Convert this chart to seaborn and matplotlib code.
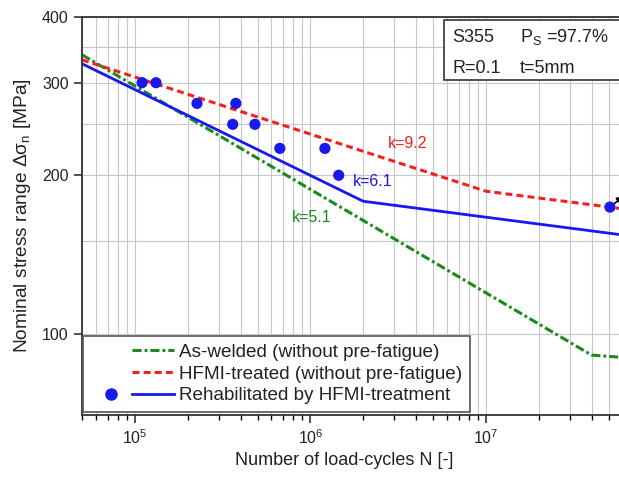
import numpy as np
import matplotlib
matplotlib.use('Agg')
import matplotlib.pyplot as plt
import seaborn as sns
from matplotlib.lines import Line2D
from matplotlib.legend_handler import HandlerTuple
from matplotlib.patches import Rectangle
from matplotlib.ticker import LogLocator, FixedLocator, NullFormatter, FormatStrFormatter

# S-N curves, knee points (N, stress range in MPa)
aw_N = [5e4, 4e7, 6.2e7]
aw_S = [339, 91, 90]
hfmi_N = [5e4, 1e7, 6.2e7]
hfmi_S = [331.6, 186.5, 172.5]
reh_N = [5e4, 2e6, 6.2e7]
reh_S = [326, 178.5, 153.8]

# test results, rehabilitated specimens
test_N = [1.10e5, 1.32e5, 2.26e5, 3.61e5, 3.76e5, 4.83e5, 6.70e5, 1.21e6, 1.45e6, 5.09e7]
test_S = [300, 300, 274, 250, 274, 250, 225, 225, 200, 174]

green = '#1a8a1a'
red = '#f42020'
blue = '#1818f0'

plt.rcParams.update({
    'font.family': ['Liberation Sans', 'DejaVu Sans'],
    'mathtext.fontset': 'custom',
    'mathtext.rm': 'Liberation Sans',
    'mathtext.it': 'Liberation Sans:italic',
    'mathtext.default': 'regular',
    'lines.scale_dashes': False,
})

fig = plt.figure(figsize=(6.19, 4.79), dpi=100)
ax = fig.add_axes([82 / 619, 64 / 479, 543 / 619, 398 / 479])
ax.set_xscale('log')
ax.set_yscale('log')

sns.lineplot(x=aw_N, y=aw_S, ax=ax, color=green, lw=2.2)
ax.lines[-1].set_dashes((6.5, 2.2, 2, 2.2))
sns.lineplot(x=hfmi_N, y=hfmi_S, ax=ax, color=red, lw=2.2)
ax.lines[-1].set_dashes((5, 3))
sns.lineplot(x=reh_N, y=reh_S, ax=ax, color=blue, lw=2)
sns.scatterplot(x=test_N, y=test_S, ax=ax, color=blue, s=65, edgecolor='none', zorder=4)

# run-out arrow on the last specimen
ax.annotate('', xy=(test_N[-1], test_S[-1]), xytext=(10, 8), textcoords='offset points',
            arrowprops=dict(arrowstyle='<|-', color='k', lw=1.2, shrinkA=0, shrinkB=4),
            annotation_clip=False)

ax.set_xlim(5e4, 6.2e7)
ax.set_ylim(70, 400)

ax.xaxis.set_major_locator(LogLocator(base=10))
ax.xaxis.set_minor_locator(LogLocator(base=10, subs=np.arange(2, 10)))
ax.xaxis.set_minor_formatter(NullFormatter())
ax.yaxis.set_major_locator(FixedLocator([100, 200, 300, 400]))
ax.yaxis.set_major_formatter(FormatStrFormatter('%d'))
ax.yaxis.set_minor_locator(FixedLocator([150, 250, 350]))
ax.yaxis.set_minor_formatter(NullFormatter())

ax.grid(which='both', color='#c8c8c8', lw=0.8)
ax.set_axisbelow(True)
ax.tick_params(axis='both', which='major', direction='out', length=6, width=1.1,
               labelsize=11.5, colors='#222222')
ax.tick_params(axis='x', which='minor', direction='out', length=3.5, width=1)
ax.tick_params(axis='y', which='minor', length=0)
for side in ['left', 'bottom', 'top']:
    ax.spines[side].set_color('#333333')
    ax.spines[side].set_linewidth(1.3)
ax.spines['right'].set_visible(False)

ax.set_xlabel('Number of load-cycles N [-]', fontsize=13, color='#222222')
ax.set_ylabel('Nominal stress range Δσ$_\\mathregular{n}$ [MPa]', fontsize=13.8, color='#222222')
ax.xaxis.set_label_coords(0.4825, -0.093)
ax.yaxis.set_label_coords(-0.09, 0.5)

# slope labels
ax.text(2.765e6, 229.7, 'k=9.2', color=red, fontsize=11.5, va='center')
ax.text(1.746e6, 194.5, 'k=6.1', color=blue, fontsize=11.5, va='center')
ax.text(7.85e5, 166.2, 'k=5.1', color=green, fontsize=11.5, va='center')

# info box
ax.add_patch(Rectangle((0.6667, 0.8417), 0.4, 0.1508, transform=ax.transAxes, clip_on=False,
                       facecolor='white', edgecolor='#333333', lw=1.2, zorder=5))
ax.text(0.6814, 0.938, 'S355', transform=ax.transAxes, fontsize=13, zorder=6, color='#222222')
ax.text(0.8066, 0.938, 'P$_\\mathregular{S}$ =97.7%', transform=ax.transAxes, fontsize=13, zorder=6,
        color='#222222')
ax.text(0.6814, 0.859, 'R=0.1', transform=ax.transAxes, fontsize=13, zorder=6, color='#222222')
ax.text(0.8066, 0.859, 't=5mm', transform=ax.transAxes, fontsize=13, zorder=6, color='#222222')

# legend: empty slot / dot, then line
empty = Line2D([], [], linestyle='none')
h_aw = Line2D([], [], color=green, lw=2.2, dashes=(6.5, 2.2, 2, 2.2))
h_hf = Line2D([], [], color=red, lw=2.2, dashes=(5, 3))
h_dot = Line2D([], [], color=blue, marker='o', markersize=8, linestyle='none')
h_reh = Line2D([], [], color=blue, lw=2)
leg = ax.legend([(empty, h_aw), (empty, h_hf), (h_dot, h_reh)],
                ['As-welded (without pre-fatigue)', 'HFMI-treated (without pre-fatigue)',
                 'Rehabilitated by HFMI-treatment'],
                handler_map={tuple: HandlerTuple(ndivide=None, pad=0)},
                loc='lower left', bbox_to_anchor=(0.002, 0.0075), borderaxespad=0,
                fontsize=13.6, handlelength=4.4, handletextpad=0.28, borderpad=0.4,
                labelspacing=0.25, fancybox=False, framealpha=1, edgecolor='#555555')
leg.get_frame().set_linewidth(1.2)
for t in leg.get_texts():
    t.set_color('#222222')

fig.savefig('out.png', dpi=100)
